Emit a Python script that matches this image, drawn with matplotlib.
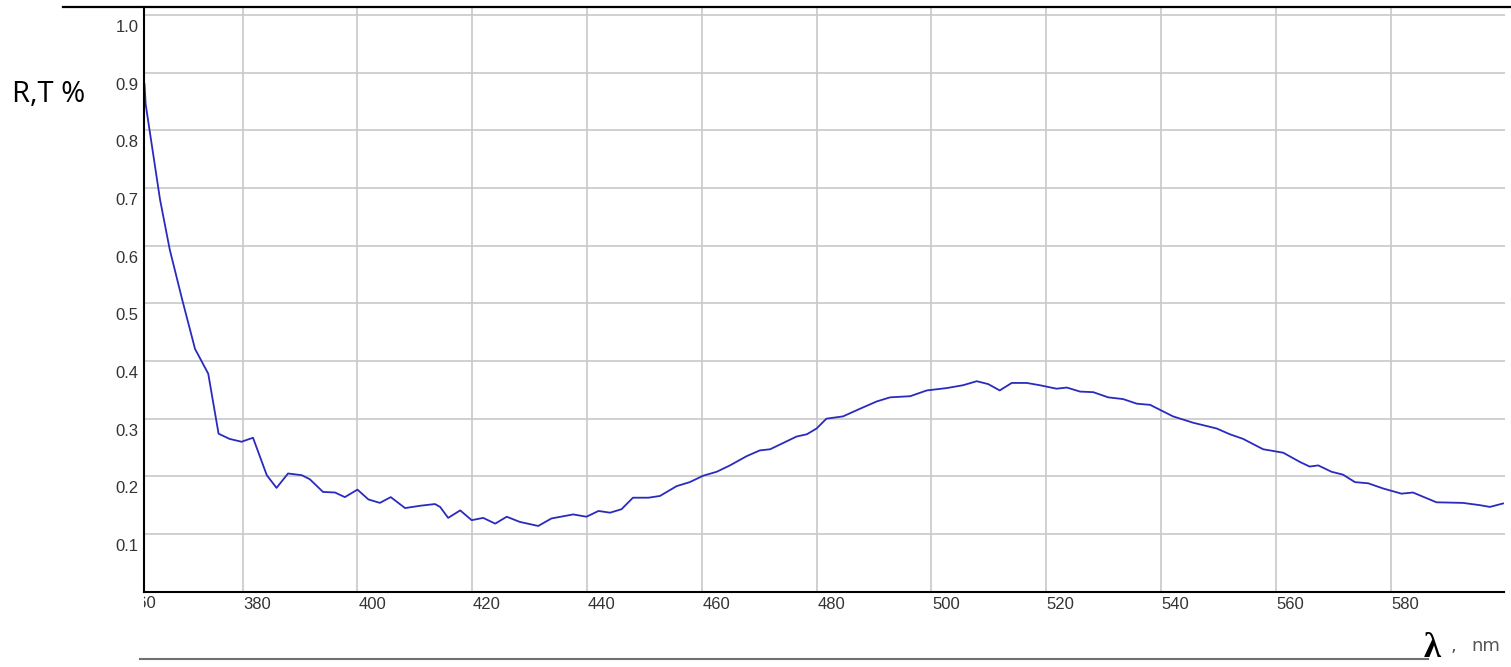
import matplotlib
matplotlib.use("Agg")
import matplotlib.pyplot as plt
import matplotlib.transforms as mtransforms
from matplotlib.lines import Line2D
import numpy as np

# spectrum
wavelength = [362.9, 363.1, 365.6, 367.3, 369.5, 371.7, 374.0, 375.8, 377.7, 379.8,
              381.8, 384.2, 385.9, 387.9, 390.3, 391.7, 394.0, 396.1, 397.8, 400.0,
              401.9, 403.9, 405.8, 408.3, 410.9, 413.5, 414.4, 415.8, 417.9, 419.9,
              421.9, 424.0, 426.0, 428.3, 431.5, 433.8, 437.6, 439.9, 442.0, 444.0,
              446.0, 448.0, 450.7, 452.7, 455.6, 457.9, 460.2, 462.6, 464.9, 467.8,
              470.1, 471.9, 474.2, 476.5, 478.3, 480.0, 481.7, 484.6, 487.5, 490.5,
              492.8, 496.3, 499.2, 502.6, 505.5, 507.9, 509.9, 511.9, 514.0, 516.6,
              518.9, 521.8, 523.6, 525.9, 528.2, 530.8, 533.4, 535.8, 538.1, 540.1,
              542.1, 545.6, 549.7, 552.0, 554.3, 557.8, 561.3, 564.2, 565.9, 567.4,
              569.7, 571.7, 573.8, 576.1, 578.7, 581.9, 583.9, 588.0, 592.6, 595.6,
              597.3, 599.6]
rt = [0.880, 0.845, 0.680, 0.593, 0.505, 0.421, 0.378, 0.274, 0.265, 0.260,
      0.267, 0.202, 0.180, 0.205, 0.202, 0.195, 0.173, 0.172, 0.164, 0.177,
      0.160, 0.154, 0.164, 0.145, 0.149, 0.152, 0.147, 0.128, 0.141, 0.124,
      0.128, 0.118, 0.130, 0.121, 0.114, 0.127, 0.134, 0.130, 0.140, 0.137,
      0.143, 0.163, 0.163, 0.166, 0.183, 0.190, 0.201, 0.208, 0.219, 0.235,
      0.245, 0.247, 0.258, 0.269, 0.273, 0.283, 0.300, 0.304, 0.317, 0.330,
      0.337, 0.339, 0.349, 0.353, 0.358, 0.365, 0.360, 0.349, 0.362, 0.362,
      0.358, 0.352, 0.354, 0.347, 0.346, 0.337, 0.334, 0.326, 0.324, 0.314,
      0.304, 0.293, 0.283, 0.273, 0.265, 0.247, 0.241, 0.225, 0.217, 0.219,
      0.208, 0.203, 0.190, 0.188, 0.179, 0.170, 0.172, 0.155, 0.154, 0.150,
      0.147, 0.153]

xticks = [380, 400, 420, 440, 460, 480, 500, 520, 540, 560, 580]
yticks = [0.1, 0.2, 0.3, 0.4, 0.5, 0.6, 0.7, 0.8, 0.9, 1.0]

W, H = 1511, 667
fig = plt.figure(figsize=(W / 100, H / 100), dpi=100)
ax = fig.add_axes([144.3 / W, 1 - 591.7 / H, (1504.5 - 144.3) / W, (591.7 - 6.7) / H])

ax.plot(wavelength, rt, color="#2a2abe", linewidth=1.3)

ax.set_xlim(362.86, 599.85)
ax.set_ylim(0, 1.0144)
ax.set_xticks(xticks)
ax.set_yticks(yticks)
ax.set_xticklabels([str(v) for v in xticks])
ax.set_yticklabels(["%.1f" % v for v in yticks])
ax.grid(True, color="#c8c8c8", linewidth=1.2)
ax.set_axisbelow(True)
ax.tick_params(length=0, labelsize=12, labelcolor="#333333", pad=4)
for lab in ax.get_xticklabels() + ax.get_yticklabels():
    lab.set_family("Liberation Sans")

# labels sit a bit off their gridlines in the original
xoff = mtransforms.ScaledTranslation(14.6 / 100, 0, fig.dpi_scale_trans)
yoff = mtransforms.ScaledTranslation(0, -11 / 100, fig.dpi_scale_trans)
for lab in ax.get_xticklabels():
    lab.set_transform(lab.get_transform() + xoff)
for lab in ax.get_yticklabels():
    lab.set_transform(lab.get_transform() + yoff)

for s in ["top", "right"]:
    ax.spines[s].set_visible(False)
for s in ["left", "bottom"]:
    ax.spines[s].set_color("black")
    ax.spines[s].set_linewidth(1.5)

# clipped "360" label at the left edge
t360 = fig.text(142.4 / W, 1 - 604 / H, "360", ha="center", va="center",
                fontsize=12, color="#333333", family="Liberation Sans")
clip = mtransforms.TransformedBbox(mtransforms.Bbox([[144 / W, 0], [1, 1]]), fig.transFigure)
t360.set_clip_box(clip)
t360.set_clip_on(True)

# frame lines above and below
fig.add_artist(Line2D([63 / W, 1], [1 - 6.7 / H] * 2, transform=fig.transFigure,
                      color="black", linewidth=1.6))
fig.add_artist(Line2D([140 / W, 1428 / W], [1 - 659 / H] * 2, transform=fig.transFigure,
                      color="#707070", linewidth=1.5))

fig.text(12 / W, 1 - 95 / H, "R,T %", ha="left", va="center", fontsize=21,
         family="Open Sans", color="black")
fig.text(1424 / W, 1 - 657 / H, "λ", ha="left", va="baseline", fontsize=25,
         family="Liberation Serif", weight="bold", color="black")
fig.text(1451 / W, 1 - 651 / H, ",", ha="left", va="baseline", fontsize=13,
         family="DejaVu Sans", color="#555555")
fig.text(1471 / W, 1 - 651 / H, "nm", ha="left", va="baseline", fontsize=13,
         family="DejaVu Sans", color="#555555")

fig.savefig("out.png", dpi=100)
